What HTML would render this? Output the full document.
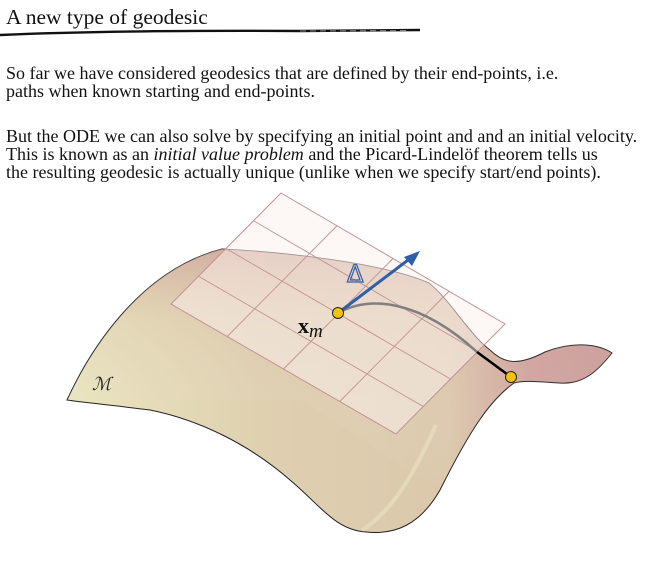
<!DOCTYPE html>
<html><head><meta charset="utf-8"><style>
body{margin:0;width:647px;height:572px;background:#fff;overflow:hidden;font-family:"Liberation Serif",serif;color:#111;position:relative}
.t{position:absolute;left:6px;white-space:nowrap;font-size:18px;line-height:18px}
</style></head><body>
<div class="t" style="top:6px;font-size:21.5px;line-height:22px">A new type of geodesic</div>
<svg style="position:absolute;left:0;top:26px" width="647" height="12"><path d="M0 9 Q120 4 300 5 L420 4" stroke="#111" stroke-width="2.4" fill="none"/><path d="M300 5 L410 4.5" stroke="#888" stroke-width="1" stroke-dasharray="6 4" fill="none"/></svg>
<div class="t" style="top:64px">So far we have considered geodesics that are defined by their end-points, i.e.<br>paths when known starting and end-points.</div>
<div class="t" style="top:127px">But the ODE we can also solve by specifying an initial point and and an initial velocity.<br>This is known as an <i>initial value problem</i> and the Picard-Lindelöf theorem tells us<br>the resulting geodesic is actually unique (unlike when we specify start/end points).</div>
<svg style="position:absolute;left:0;top:0" width="647" height="572">
<defs>
<linearGradient id="g1" x1="0" y1="0" x2="1" y2="0"><stop offset="0" stop-color="#e9e6bf"/><stop offset="0.35" stop-color="#dfd0b0"/><stop offset="0.7" stop-color="#dbc8ac"/><stop offset="0.85" stop-color="#cf9f9c"/><stop offset="1" stop-color="#c99a98"/></linearGradient>
<linearGradient id="g2" x1="0" y1="0" x2="0" y2="1"><stop offset="0" stop-color="#c99896" stop-opacity="0.9"/><stop offset="0.3" stop-color="#d8b8a8" stop-opacity="0.3"/><stop offset="1" stop-color="#fff" stop-opacity="0"/></linearGradient>
</defs>
<path d="M67 400 C90 350 140 270 222 249 C280 252 380 262 429 283 C450 300 470 335 490 350 C505 365 520 365 545 352 C575 340 600 345 612 353 C600 368 585 385 560 383 C540 382 525 380 514 383 C490 400 470 430 440 490 C420 525 395 535 366 532 C335 530 320 505 290 480 C250 445 200 420 150 410 C110 405 80 402 67 400 Z" fill="url(#g1)" stroke="#222" stroke-width="1"/>
<path d="M67 400 C90 350 140 270 222 249 C280 252 380 262 429 283 C450 300 470 335 490 350 C505 365 520 365 545 352 C575 340 600 345 612 353 C600 368 585 385 560 383 C540 382 525 380 514 383 C490 400 470 430 440 490 L300 400 Z" fill="url(#g2)" opacity="0.7"/>
<path d="M362 530 C395 510 418 465 436 425" stroke="#ece9c6" stroke-width="4" fill="none" opacity="0.5"/>
<g>
<polygon points="281,193 505,324 396,434 171,304" fill="#fbf2ee" fill-opacity="0.5" stroke="#c09292" stroke-width="1"/>
<g stroke="#c09292" stroke-width="0.9">
<line x1="253.5" y1="220.75" x2="477.75" y2="351.5"/>
<line x1="226" y1="248.5" x2="450.5" y2="379"/>
<line x1="198.5" y1="276.25" x2="423.25" y2="406.5"/>
<line x1="337" y1="225.75" x2="227.25" y2="336.5"/>
<line x1="393" y1="258.5" x2="283.5" y2="369"/>
<line x1="449" y1="291.25" x2="339.75" y2="401.5"/>
</g></g>
<path d="M338 313 C370 295 420 300 477 352" stroke="#7f7f7f" stroke-width="2.5" fill="none"/>
<path d="M477 352 L511 377" stroke="#000" stroke-width="2.5"/>
<line x1="338" y1="313" x2="412" y2="257" stroke="#2f5fa6" stroke-width="3"/>
<polygon points="420,251 404,257 412,266" fill="#2f5fa6"/>
<circle cx="338" cy="313" r="5.5" fill="#f5c400" stroke="#222" stroke-width="1"/>
<circle cx="511" cy="377" r="5.5" fill="#f5c400" stroke="#222" stroke-width="1"/>
<text x="347" y="282" font-family="DejaVu Sans, sans-serif" font-size="24" fill="none" stroke="#2f5fa6" stroke-width="1.2">Δ</text>
<text x="298" y="333" font-family="Liberation Serif, serif" font-size="22" font-weight="bold" fill="#111">x<tspan font-weight="normal" font-style="italic" font-size="19" dy="4">m</tspan></text>
<text x="92" y="390" font-family="Liberation Serif, serif" font-size="18" font-style="italic" fill="#222">ℳ</text>
</svg>
</body></html>
